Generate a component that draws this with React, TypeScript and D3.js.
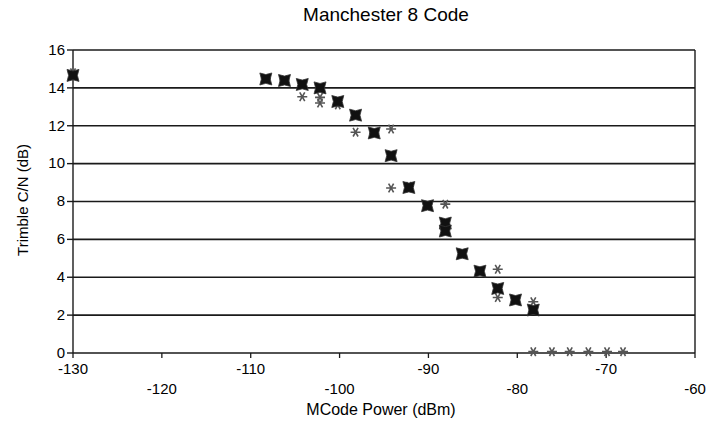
import { scaleLinear, symbol, symbolAsterisk } from 'd3';

// square series (dark bow-tie markers)
const squareX = [-130, -108.3, -106.2, -104.2, -102.2, -100.2, -98.2, -96.1, -94.2, -92.2, -90.1, -88.1, -88.1, -86.2, -84.2, -82.2, -80.2, -78.2];
const squareY = [14.66, 14.47, 14.39, 14.18, 14.0, 13.28, 12.56, 11.62, 10.42, 8.74, 7.78, 6.86, 6.44, 5.24, 4.32, 3.41, 2.8, 2.27];

// star series (grey asterisks)
const starX = [-130, -108.3, -106.2, -104.2, -102.2, -102.2, -100.2, -98.2, -96.1, -94.2, -94.2, -92.2, -88.1, -82.2, -82.2, -78.2, -78.2, -76.1, -74.1, -72, -69.9, -68.1];
const starY = [14.8, 14.5, 14.4, 13.53, 13.5, 13.2, 13.1, 11.66, 11.6, 11.83, 8.71, 8.8, 7.86, 4.42, 2.93, 2.71, 0.07, 0.07, 0.07, 0.07, 0.07, 0.07];

const yTicks = [0, 2, 4, 6, 8, 10, 12, 14, 16];
const xTicks = [-130, -120, -110, -100, -90, -80, -70, -60];

const title = 'Manchester 8 Code';
const xLabel = 'MCode Power (dBm)';
const yLabel = 'Trimble C/N (dB)';

const WIDTH = 712;
const HEIGHT = 424;
const MARGINS = { top: 50, right: 17, bottom: 71, left: 73 };
const FONT = 'Arial, "Liberation Sans", Helvetica, sans-serif';

const App = () => {
  const xScale = scaleLinear()
    .domain([-130, -60])
    .range([MARGINS.left, WIDTH - MARGINS.right]);
  const yScale = scaleLinear()
    .domain([0, 16])
    .range([HEIGHT - MARGINS.bottom, MARGINS.top]);

  const [x0, x1] = xScale.range();
  const [y0, y1] = yScale.range();

  // concave "bow-tie" square
  const s = 6;
  const d = 1.6;
  const squarePath = `M${-s},${-s} L0,${-s + d} L${s},${-s} L${s - d},0 L${s},${s} L0,${s - d} L${-s},${s} L${-s + d},0 Z`;
  const starPath = symbol(symbolAsterisk, 70)() || '';

  return (
    <svg
      width={WIDTH}
      height={HEIGHT}
      style={{ position: 'fixed', left: 0, top: 0, background: 'white' }}
      fontFamily={FONT}
    >
      <text x={386} y={21} textAnchor="middle" fontSize={19} fill="#000">
        {title}
      </text>

      {/* gridlines */}
      {yTicks.map((t) => (
        <line
          key={`g${t}`}
          x1={x0}
          x2={x1}
          y1={yScale(t)}
          y2={yScale(t)}
          stroke="#1a1a1a"
          strokeWidth={1.6}
        />
      ))}
      <line x1={x0} x2={x0} y1={y0} y2={y1} stroke="#1a1a1a" strokeWidth={1.4} />
      <line x1={x1} x2={x1} y1={y0} y2={y1} stroke="#1a1a1a" strokeWidth={1.4} />

      {/* y axis ticks and labels */}
      {yTicks.map((t) => (
        <g key={`y${t}`} transform={`translate(0, ${yScale(t)})`}>
          <line x1={x0 - 6} x2={x0} stroke="#1a1a1a" strokeWidth={1.4} />
          <text x={x0 - 8} dy="0.32em" textAnchor="end" fontSize={15} fill="#000">
            {t}
          </text>
        </g>
      ))}

      {/* x axis ticks and labels, staggered in two rows */}
      {xTicks.map((t, i) => (
        <g key={`x${t}`} transform={`translate(${xScale(t)}, 0)`}>
          <line y1={y0} y2={y0 + 5} stroke="#1a1a1a" strokeWidth={1.3} />
          <text
            y={i % 2 === 0 ? y0 + 21 : y0 + 41}
            textAnchor="middle"
            fontSize={15}
            fill="#000"
          >
            {t}
          </text>
        </g>
      ))}

      <text x={381} y={415} textAnchor="middle" fontSize={16} fill="#000">
        {xLabel}
      </text>
      <text
        transform={`translate(28, 200) rotate(-90)`}
        textAnchor="middle"
        fontSize={15}
        fill="#000"
      >
        {yLabel}
      </text>

      {/* star series */}
      {starX.map((v, i) => (
        <path
          key={`s${i}`}
          d={starPath}
          transform={`translate(${xScale(v)}, ${yScale(starY[i])}) rotate(90)`}
          fill="none"
          stroke="#555"
          strokeWidth={1.6}
        />
      ))}

      {/* square series */}
      {squareX.map((v, i) => (
        <path
          key={`q${i}`}
          d={squarePath}
          transform={`translate(${xScale(v)}, ${yScale(squareY[i])})`}
          fill="#111"
          stroke="#333"
          strokeWidth={0.8}
        />
      ))}
    </svg>
  );
};

export default App;
